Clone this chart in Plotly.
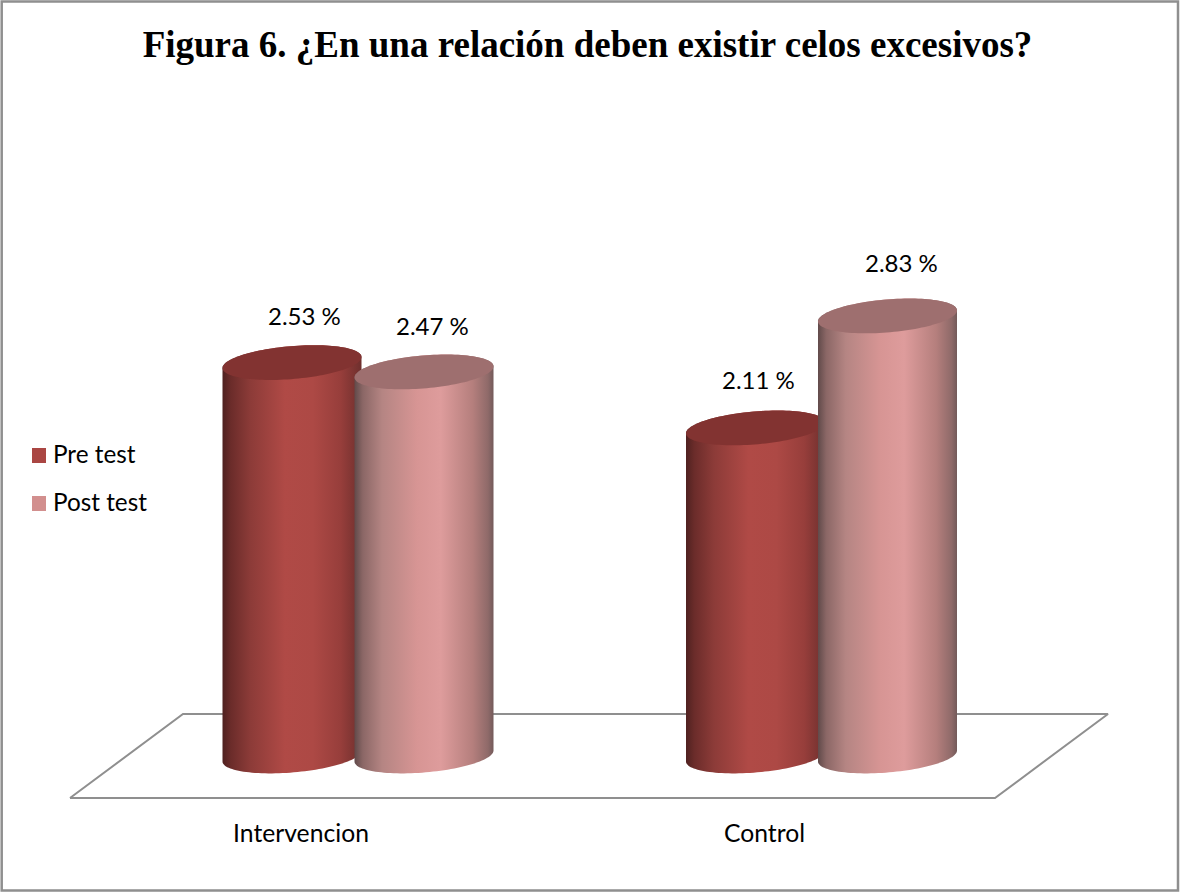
import numpy as np
import plotly.graph_objects as go

categories = ["Intervencion", "Control"]
series_names = ["Pre test", "Post test"]
pre_values = [2.53, 2.11]
post_values = [2.47, 2.83]
label_texts_pre = ["2.53 %", "2.11 %"]
label_texts_post = ["2.47 %", "2.83 %"]

W, H = 1180, 892
MB = 76                      # bottom margin (px)
PX_X, PX_Y = 463.5, 155.5    # px per category, px per value unit
X0_PX, Y0_PX = 358.0, 756.0  # pixel of category 0 / value 0

xr = [-X0_PX / PX_X, (W - X0_PX) / PX_X]
yr = [-(H - MB - Y0_PX) / PX_Y, Y0_PX / PX_Y]

BAR_DX = 66.0 / PX_X
A = 69.5 / PX_X
TILT = 5.5 / PX_Y
B = 16.5 / PX_Y

PRE_SCALE = [[0, "#4f2120"], [0.06, "#6b2c2a"], [0.2, "#8c3b38"], [0.45, "#b04a46"],
             [0.65, "#ad4945"], [0.85, "#973e3b"], [1, "#6e2f2d"]]
POST_SCALE = [[0, "#614a4a"], [0.06, "#8b6766"], [0.2, "#b58583"], [0.45, "#d79594"],
              [0.62, "#de9c9c"], [0.85, "#b57f7d"], [0.96, "#8f6a69"], [1, "#735a5a"]]
PRE_TOP, POST_TOP = "#823331", "#9e6f6f"
PRE_KEY, POST_KEY = "#aa4643", "#d28f8e"


def ellipse(cx, cy, t):
    return cx + A * np.cos(t), cy + TILT * np.cos(t) + B * np.sin(t)


def add_cylinder(fig, cx, value, scale, top):
    # body: down the left side, along the front of the base, up the right side
    tb = np.linspace(np.pi, 2 * np.pi, 60)
    xb, yb = ellipse(cx, 0, tb)
    tt = np.linspace(0, np.pi, 60)
    xt, yt = ellipse(cx, value, tt)
    fig.add_trace(go.Scatter(
        x=np.r_[xb, xt], y=np.r_[yb, yt], mode="none", fill="toself",
        fillgradient=dict(type="horizontal", colorscale=scale),
        hoverinfo="skip", showlegend=False))
    t = np.linspace(0, 2 * np.pi, 120)
    xe, ye = ellipse(cx, value, t)
    fig.add_trace(go.Scatter(
        x=xe, y=ye, mode="none", fill="toself", fillcolor=top,
        hoverinfo="skip", showlegend=False))


fig = go.Figure()

# floor of the 3D chart
fx = (np.array([70, 995, 1108, 183, 70]) - X0_PX) / PX_X
fy = (Y0_PX - np.array([798, 798, 714, 714, 798])) / PX_Y
fig.add_trace(go.Scatter(x=fx, y=fy, mode="lines", line=dict(color="#8f8f8f", width=2),
                         hoverinfo="skip", showlegend=False))

for i in range(len(categories)):
    add_cylinder(fig, i - BAR_DX, pre_values[i], PRE_SCALE, PRE_TOP)
    add_cylinder(fig, i + BAR_DX, post_values[i], POST_SCALE, POST_TOP)

FONT = "Lato"
annots = []
pre_off = [(-54, 47), (-63, 48)]
post_off = [(8, 46), (14, 53)]
for i in range(len(categories)):
    for vals, texts, offs, sgn in ((pre_values, label_texts_pre, pre_off, -1),
                                   (post_values, label_texts_post, post_off, 1)):
        dx, dy = offs[i]
        annots.append(dict(x=i + sgn * BAR_DX + (dx + 66 if sgn < 0 else dx) / PX_X,
                           y=vals[i] + dy / PX_Y, text=texts[i], showarrow=False,
                           xanchor="center", yanchor="middle",
                           font=dict(family=FONT, size=24, color="#000000")))

# legend
for name, ypx in zip(series_names, (453, 501)):
    annots.append(dict(xref="paper", yref="paper", x=51 / W, y=1 - ypx / (H - MB),
                       text=name, showarrow=False, xanchor="left", yanchor="middle",
                       font=dict(family=FONT, size=24.3, color="#000000")))

shapes = [dict(type="rect", xref="paper", yref="paper", x0=32 / W, x1=46 / W,
               y0=1 - 448 / (H - MB), y1=1 - 463 / (H - MB), fillcolor=PRE_KEY, line_width=0),
          dict(type="rect", xref="paper", yref="paper", x0=32 / W, x1=46 / W,
               y0=1 - 496 / (H - MB), y1=1 - 511 / (H - MB), fillcolor=POST_KEY, line_width=0),
          dict(type="rect", xref="paper", yref="paper", x0=1.7 / W, x1=1178 / W,
               y0=1 - 890.5 / (H - MB), y1=1 - 1.5 / (H - MB),
               line=dict(color="#8f8f8f", width=2.5), fillcolor="rgba(0,0,0,0)")]

tick_shift = -57 / PX_X
fig.update_layout(
    width=W, height=H, autosize=False,
    margin=dict(l=0, r=0, t=0, b=MB),
    paper_bgcolor="#ffffff", plot_bgcolor="#ffffff",
    showlegend=False,
    title=dict(text="<b>Figura 6. ¿En una relación deben existir celos excesivos?</b>",
               x=587.5 / W, xanchor="center", xref="paper", y=1 - 44 / H, yanchor="middle",
               yref="container",
               font=dict(family="Liberation Serif", size=37, color="#000000")),
    xaxis=dict(range=xr, tickmode="array", tickvals=[i + tick_shift for i in range(len(categories))],
               ticktext=categories, showgrid=False, zeroline=False, showline=False, ticks="",
               ticklen=0, tickfont=dict(family=FONT, size=24.7, color="#000000"), fixedrange=True),
    yaxis=dict(range=yr, visible=False, fixedrange=True),
    annotations=annots, shapes=shapes)

fig.write_html("out.html", config={"displayModeBar": False},
               post_script="document.body.style.margin='0';document.documentElement.style.overflow='hidden';window.dispatchEvent(new Event('resize'));")
